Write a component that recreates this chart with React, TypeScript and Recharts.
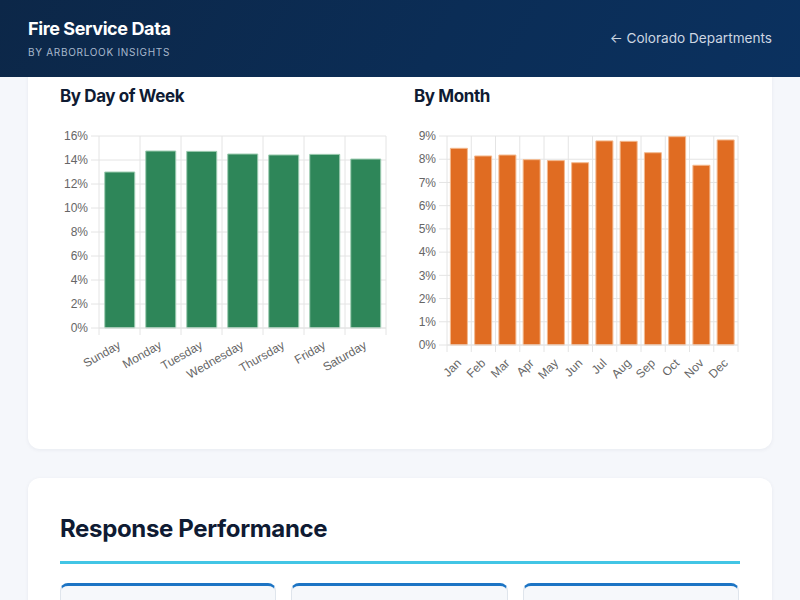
import React from 'react';
import { BarChart, Bar, XAxis, YAxis, CartesianGrid } from 'recharts';

const dayLabels = ['Sunday', 'Monday', 'Tuesday', 'Wednesday', 'Thursday', 'Friday', 'Saturday'];
const dayShare = [13.0, 14.75, 14.72, 14.5, 14.42, 14.47, 14.08];
const dayTicks = [0, 2, 4, 6, 8, 10, 12, 14, 16];

const monthLabels = ['Jan', 'Feb', 'Mar', 'Apr', 'May', 'Jun', 'Jul', 'Aug', 'Sep', 'Oct', 'Nov', 'Dec'];
const monthShare = [8.47, 8.14, 8.18, 7.98, 7.94, 7.85, 8.79, 8.77, 8.28, 8.97, 7.74, 8.83];
const monthTicks = [0, 1, 2, 3, 4, 5, 6, 7, 8, 9];

const dayData = dayLabels.map((name, i) => ({ name, value: dayShare[i] }));
const monthData = monthLabels.map((name, i) => ({ name, value: monthShare[i] }));

const GRID = '#e4e4e4';
const TICK_TEXT = '#666';
const TICK_SIZE = 7;
const TICK_MARGIN = 5;
const Y_WIDTH = 40;
const CHART_FONT = '"Liberation Sans", Arial, sans-serif';

function boundaryGenerator(count: number) {
  return ({ offset }: any) =>
    Array.from({ length: count + 1 }, (_, i) => offset.left + (i * offset.width) / count);
}

// chart.js style: tick marks sit on category boundaries, labels rotated and end-aligned
function makeTick(band: number, count: number, angle: number) {
  return (props: any) => {
    const { x, y, payload, index } = props;
    const top = y - TICK_MARGIN - TICK_SIZE;
    const bottom = y - TICK_MARGIN;
    return (
      <g>
        <line x1={x - band / 2} x2={x - band / 2} y1={top} y2={bottom} stroke={GRID} />
        {index === count - 1 && (
          <line x1={x + band / 2} x2={x + band / 2} y1={top} y2={bottom} stroke={GRID} />
        )}
        <text
          x={x}
          y={y + 4}
          transform={`rotate(${angle} ${x} ${y + 4})`}
          textAnchor="end"
          dominantBaseline="central"
          fill={TICK_TEXT}
          fontSize={12}
          fontFamily={CHART_FONT}
        >
          {payload.value}
        </text>
      </g>
    );
  };
}

type PanelProps = {
  data: { name: string; value: number }[];
  ticks: number[];
  color: string;
  edge: string;
  angle: number;
  margin: { top: number; right: number; bottom: number; left: number };
  xHeight: number;
};

const CHART_W = 360;
const CHART_H = 280;

function SharePanel({ data, ticks, color, edge, angle, margin, xHeight }: PanelProps) {
  const n = data.length;
  const plotW = CHART_W - margin.left - margin.right - Y_WIDTH;
  const band = plotW / n;
  return (
    <BarChart width={CHART_W} height={CHART_H} data={data} margin={margin} barCategoryGap="14%">
      <CartesianGrid
        stroke={GRID}
        horizontal
        vertical
        verticalCoordinatesGenerator={boundaryGenerator(n)}
      />
      <XAxis
        dataKey="name"
        interval={0}
        height={xHeight}
        axisLine={{ stroke: GRID }}
        tickLine={false}
        tickSize={TICK_SIZE}
        tickMargin={TICK_MARGIN}
        tick={makeTick(band, n, angle)}
      />
      <YAxis
        width={Y_WIDTH}
        domain={[0, ticks[ticks.length - 1]]}
        ticks={ticks}
        interval={0}
        axisLine={false}
        tickLine={{ stroke: GRID }}
        tickSize={8}
        tickMargin={3}
        tickFormatter={(v: number) => `${v}%`}
        tick={{ fill: TICK_TEXT, fontSize: 12, fontFamily: CHART_FONT }}
      />
      <Bar dataKey="value" fill={color} stroke={edge} strokeWidth={1} isAnimationActive={false} />
    </BarChart>
  );
}

const HEAD_FONT = 'Inter, "Noto Sans", sans-serif';

const sectionTitle: React.CSSProperties = {
  position: 'absolute',
  top: 86,
  fontSize: 17,
  lineHeight: '20px',
  fontWeight: 700,
  color: '#0f1b33',
  letterSpacing: -0.4,
};

export default function App() {
  return (
    <div
      style={{
        position: 'absolute',
        left: 0,
        top: 0,
        width: 800,
        height: 600,
        overflow: 'hidden',
        background: '#f5f7fb',
        fontFamily: HEAD_FONT,
      }}
    >
      {/* first card, top hidden under header */}
      <div
        style={{
          position: 'absolute',
          left: 28,
          top: 40,
          width: 744,
          height: 409,
          background: '#fff',
          borderRadius: 12,
          boxShadow: '0 1px 4px rgba(15,30,60,0.06)',
        }}
      />
      <div style={{ ...sectionTitle, left: 60 }}>By Day of Week</div>
      <div style={{ ...sectionTitle, left: 414 }}>By Month</div>
      <div style={{ position: 'absolute', left: 40, top: 126 }}>
        <SharePanel
          data={dayData}
          ticks={dayTicks}
          color="#2e8659"
          edge="#9fcdb2"
          angle={-30}
          margin={{ top: 10, right: 14, bottom: 8, left: 19 }}
          xHeight={70}
        />
      </div>
      <div style={{ position: 'absolute', left: 400, top: 126 }}>
        <SharePanel
          data={monthData}
          ticks={monthTicks}
          color="#e06c22"
          edge="#f3b98e"
          angle={-45}
          margin={{ top: 10, right: 22, bottom: 6, left: 7 }}
          xHeight={55}
        />
      </div>

      {/* header */}
      <div
        style={{
          position: 'absolute',
          left: 0,
          top: 0,
          width: 800,
          height: 77,
          background: 'linear-gradient(120deg, #0c2748 0%, #0b2d56 55%, #0b315f 100%)',
        }}
      >
        <div
          style={{
            position: 'absolute',
            left: 28,
            top: 18,
            fontSize: 18,
            lineHeight: '22px',
            fontWeight: 700,
            color: '#fff',
            letterSpacing: -0.4,
          }}
        >
          Fire Service Data
        </div>
        <div
          style={{
            position: 'absolute',
            left: 28,
            top: 46,
            fontSize: 10,
            lineHeight: '12px',
            color: '#a8b8cc',
            letterSpacing: 0.7,
          }}
        >
          BY ARBORLOOK INSIGHTS
        </div>
        <div
          style={{
            position: 'absolute',
            right: 28,
            top: 30,
            fontSize: 13.6,
            lineHeight: '16px',
            color: '#cdd6e2',
          }}
        >
          ← Colorado Departments
        </div>
      </div>

      {/* second card */}
      <div
        style={{
          position: 'absolute',
          left: 28,
          top: 478,
          width: 744,
          height: 200,
          background: '#fff',
          borderRadius: 12,
          boxShadow: '0 1px 4px rgba(15,30,60,0.06)',
        }}
      />
      <div
        style={{
          position: 'absolute',
          left: 60,
          top: 514,
          fontSize: 24,
          lineHeight: '30px',
          fontWeight: 700,
          color: '#0f1b33',
          letterSpacing: -0.35,
        }}
      >
        Response Performance
      </div>
      <div
        style={{
          position: 'absolute',
          left: 60,
          top: 561,
          width: 680,
          height: 3,
          background: '#42c5e5',
        }}
      />
      {[60, 291, 523].map((left, i) => (
        <div
          key={i}
          style={{
            position: 'absolute',
            left,
            top: 583,
            width: i === 1 ? 217 : 216,
            height: 60,
            boxSizing: 'border-box',
            background: '#f6f8fb',
            border: '1px solid #dfe5ec',
            borderTop: '3px solid #1c74c4',
            borderRadius: 8,
          }}
        />
      ))}
    </div>
  );
}
